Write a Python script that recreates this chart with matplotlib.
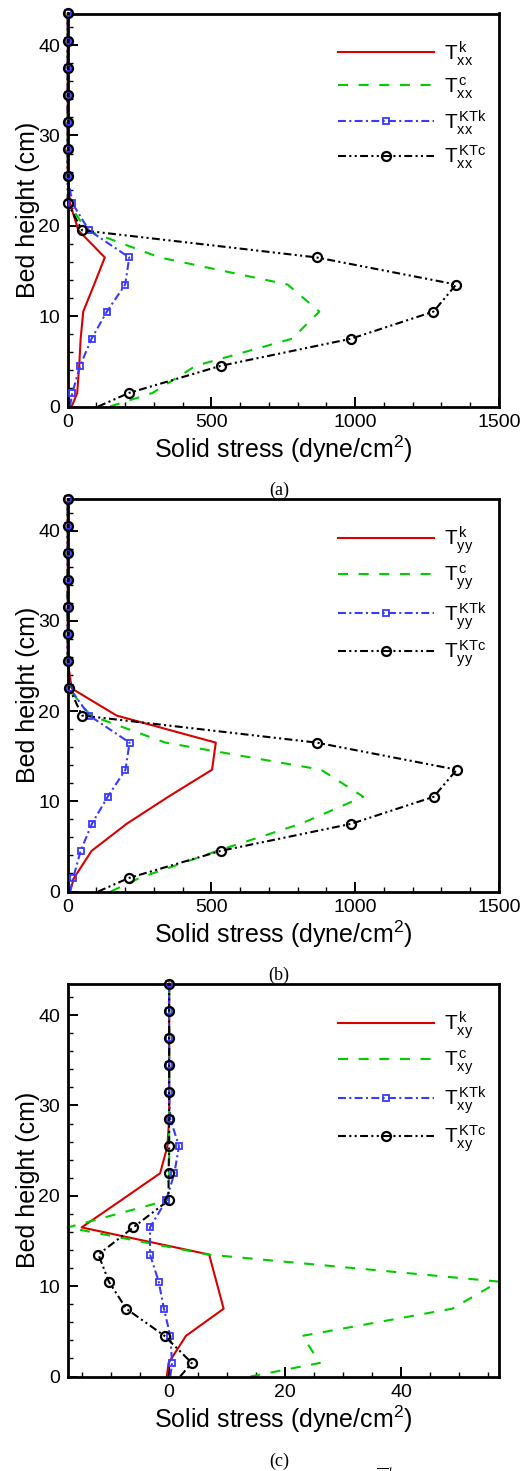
import matplotlib
matplotlib.use('Agg')
import matplotlib.pyplot as plt
from matplotlib.lines import Line2D
from matplotlib.ticker import MultipleLocator

plt.rcParams['font.family'] = 'Liberation Sans'
plt.rcParams['mathtext.fontset'] = 'custom'
plt.rcParams['mathtext.rm'] = 'Liberation Sans'
plt.rcParams['mathtext.it'] = 'Liberation Sans:italic'
plt.rcParams['mathtext.bf'] = 'Liberation Sans:bold'

# bed height of the cells (cm), first entry is the distributor
height = [0, 1.5, 4.5, 7.5, 10.5, 13.5, 16.5, 19.5, 22.5, 25.5, 28.5, 31.5, 34.5, 37.5, 40.5, 43.5]

# (a) normal stress in x
txx_k = [14, 33, 40, 45, 54, 92, 129, 37, 8, 0, 0, 0, 0, 0, 0, 0]
txx_c = [147, 295, 445, 780, 875, 765, 320, 66, 3, 0, 0, 0, 0, 0, 0, 0]
txx_ktk = [8, 16, 43, 83, 136, 200, 214, 74, 16, 0, 0, 0, 0, 0, 0, 0]
txx_ktc = [106, 213, 532, 985, 1272, 1351, 866, 50, 0, 0, 0, 0, 0, 0, 0, 0]

# (b) normal stress in y
tyy_k = [8, 22, 83, 205, 350, 502, 515, 170, 14, 0, 0, 0, 0, 0, 0, 0]
tyy_c = [150, 250, 520, 810, 1028, 881, 340, 80, 3, 0, 0, 0, 0, 0, 0, 0]
tyy_ktk = [8, 19, 45, 84, 139, 201, 215, 75, 8, 0, 0, 0, 0, 0, 0, 0]
tyy_ktc = [106, 213, 532, 986, 1273, 1353, 866, 50, 6, 0, 0, 0, 0, 0, 0, 0]

# (c) shear stress
txy_k = [-0.4, -0.1, 2.9, 9.4, 8.15, 6.9, -15.1, -8.3, -1.55, -0.3, 0, 0, 0, 0, 0, 0]
txy_c = [14, 26, 23, 48.8, 56.9, 6.7, -17.5, -0.3, 0, 0, 0, 0, 0, 0, 0, 0]
txy_ktk = [0.2, 0.5, 0.2, -0.9, -1.8, -3.3, -3.3, -0.5, 0.9, 1.7, 0.2, 0, 0, 0, 0, 0]
txy_ktc = [1.9, 3.9, -0.8, -7.4, -10.4, -12.2, -6.2, -0.1, -0.1, 0, 0, 0, 0, 0, 0, 0]

sup = ['k', 'c', 'KTk', 'KTc']

RED = '#d80000'
GREEN = '#00cc00'
BLUE = '#3a3aff'
styles = [
    dict(color=RED, lw=1.5, ls='-'),
    dict(color=GREEN, lw=1.5, ls=(0, (4.8, 5.1))),
    dict(color=BLUE, lw=1.5, ls=(0, (3.8, 1.6, 1, 1.6))),
    dict(color='black', lw=1.5, ls=(0, (3.8, 1.6, 1, 1.6, 1, 1.6))),
]
marks = [None, None,
         dict(marker='s', ms=4.5, mfc='none', mec=BLUE, mew=1.3),
         dict(marker='o', ms=6.5, mfc='none', mec='black', mew=1.6)]


def panel(ax, series, comp, xmin, xmax, xmaj, xmin_step):
    # lines (black drawn before blue so the squares sit on top of the circles)
    for i in [0, 1, 3, 2]:
        ax.plot(series[i], height, clip_on=False, zorder=2 + i * 0.1, **styles[i])
        if marks[i]:
            ax.plot(series[i][1:], height[1:], ls='none', clip_on=False,
                    zorder=3 + i * 0.1, **marks[i])
    ax.set_xlim(xmin, xmax)
    ax.set_ylim(0, 43.5)
    ax.xaxis.set_major_locator(MultipleLocator(xmaj))
    ax.xaxis.set_minor_locator(MultipleLocator(xmin_step))
    ax.yaxis.set_major_locator(MultipleLocator(10))
    ax.yaxis.set_minor_locator(MultipleLocator(2))
    ax.tick_params(which='both', direction='in', top=False, right=False,
                   labelsize=14, pad=5.5)
    ax.tick_params(which='major', length=7.2, width=1.4)
    ax.tick_params(which='minor', length=3.6, width=1.0)
    for s in ax.spines.values():
        s.set_linewidth(2)
    ax.set_xlabel(r'Solid stress (dyne/cm$\mathregular{^2}$)', fontsize=18, labelpad=2)
    ax.set_ylabel('Bed height (cm)', fontsize=18, labelpad=-1)

    handles = []
    for i in range(4):
        h = Line2D([], [], **styles[i])
        if marks[i]:
            h.set_marker(marks[i]['marker'])
            h.set_markersize(marks[i]['ms'])
            h.set_markerfacecolor('none')
            h.set_markeredgecolor(marks[i]['mec'])
            h.set_markeredgewidth(marks[i]['mew'])
        handles.append(h)
    labels = [r'$\mathregular{T_{%s}^{\,%s}}$' % (comp, s) for s in sup]
    ax.legend(handles, labels, loc='upper left', bbox_to_anchor=(0.627, 0.935),
              frameon=False, fontsize=15, handlelength=4.6, handletextpad=0.5,
              labelspacing=0.35, borderpad=0, borderaxespad=0, numpoints=1)


fig = plt.figure(figsize=(5.28, 14.71), dpi=100)
W, H = 528, 1471
boxes = [(67.7, 13.5, 499, 406.5), (67.7, 499, 499, 891.5), (67.7, 983.5, 499, 1376.5)]
axes = [fig.add_axes([l / W, 1 - b / H, (r - l) / W, (b - t) / H]) for l, t, r, b in boxes]

panel(axes[0], [txx_k, txx_c, txx_ktk, txx_ktc], 'xx', 0, 1500, 500, 100)
panel(axes[1], [tyy_k, tyy_c, tyy_ktk, tyy_ktc], 'yy', 0, 1500, 500, 100)
panel(axes[2], [txy_k, txy_c, txy_ktk, txy_ktc], 'xy', min(txy_c), max(txy_c), 20, 5)

for lab, y in [('(a)', 490), ('(b)', 975), ('(c)', 1461.5)]:
    fig.text(279 / W, 1 - y / H, lab, ha='center', va='center',
             family='Liberation Serif', fontsize=13)

# start of the caption line below, cut off by the page edge
fig.text(376 / W, 1 - 1486 / H, r'$\overline{T}^{k}$', ha='left', va='baseline',
         fontsize=14, math_fontfamily='stix')

fig.savefig('out.png', dpi=100)
